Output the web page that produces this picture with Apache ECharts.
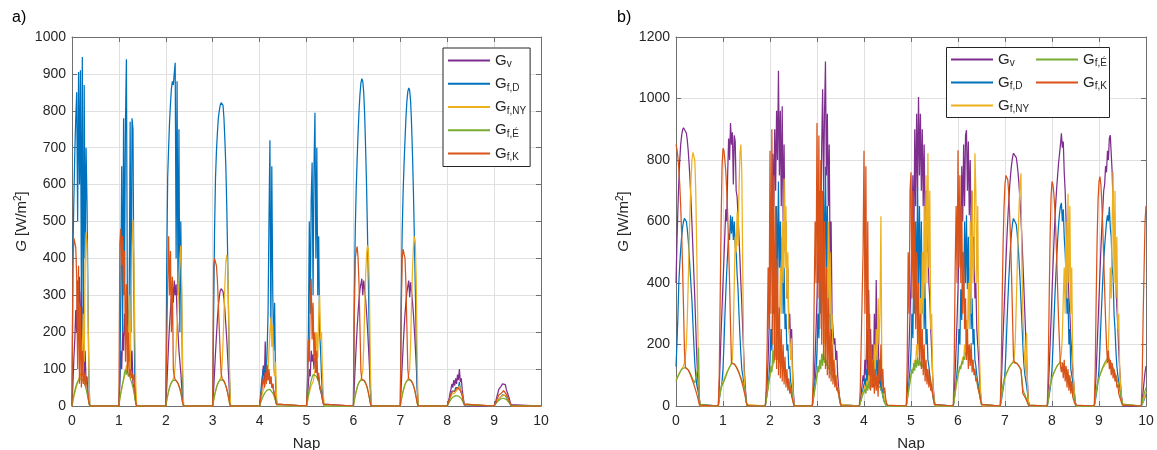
<!DOCTYPE html>
<html><head><meta charset="utf-8">
<script src="https://cdn.jsdelivr.net/npm/echarts@6/dist/echarts.min.js"></script>
<style>html,body{margin:0;padding:0;background:#fff}#c{width:1157px;height:450px}</style>
</head><body><div id="c"></div>
<script>
// ---------- labels, ticks ----------
const seriesNames = ['Gv', 'Gf,D', 'Gf,NY', 'Gf,É', 'Gf,K'];
const seriesColors = ['#7E2F8E', '#0072BD', '#EDB120', '#77AC30', '#D95319'];
const xTicks = [0, 1, 2, 3, 4, 5, 6, 7, 8, 9, 10];
const yTicksA = [0, 100, 200, 300, 400, 500, 600, 700, 800, 900, 1000];
const yTicksB = [0, 200, 400, 600, 800, 1000, 1200];
const xName = 'Nap';

// sample times within each day (fraction of a day)
const offsetsA = [0, 0.02, 0.04, 0.06, 0.08, 0.10, 0.12, 0.14, 0.16, 0.18, 0.20, 0.22, 0.24, 0.26, 0.28, 0.30, 0.32, 0.34, 0.36, 0.38, 0.40];
const offsetsB = [-0.10, -0.08, -0.06, -0.04, -0.02, 0, 0.02, 0.04, 0.06, 0.08, 0.10, 0.12, 0.14, 0.16, 0.18, 0.20, 0.22, 0.24, 0.26, 0.28, 0.30, 0.32, 0.34, 0.36, 0.38, 0.40, 0.42, 0.44, 0.46, 0.48, 0.50, 0.52, 0.54];

// ---------- panel a) values, one row per day ----------
const GvA = [
  [0,60,130,180,260,200,340,280,350,150,310,100,270,80,150,60,80,30,10,0,0],
  [0,60,150,100,200,150,250,190,300,220,260,120,200,90,150,60,50,25,8,0,0],
  [0,50,110,170,220,260,300,330,280,340,300,330,250,200,150,120,90,50,15,0,0],
  [0,45,95,145,190,235,270,295,312,318,322,310,290,260,220,180,130,80,25,0,0],
  [0,15,40,80,110,60,175,90,110,70,90,60,80,50,60,40,30,15,5,0,0],
  [0,20,60,100,80,150,120,140,100,130,90,110,70,80,50,45,30,15,5,0,0],
  [0,57,112,164,212,254,289,316,330,345,300,340,316,289,254,212,164,112,57,0,0],
  [0,55,110,160,207,248,282,308,325,340,295,335,310,283,248,207,160,110,55,0,0],
  [0,10,20,35,45,60,50,70,55,75,60,85,70,100,65,75,45,25,8,0,0],
  [0,8,15,25,35,45,40,52,48,60,65,55,58,45,40,30,22,12,4,0,0],
  [0]
];
const GfDA = [
  [0,420,560,690,780,850,500,905,600,910,300,946,120,870,400,700,550,300,80,0,0],
  [0,80,300,650,200,780,350,770,940,300,120,300,770,200,780,750,300,60,10,0,0],
  [0,380,620,700,770,820,860,880,870,900,930,400,880,300,750,200,500,250,50,0,0],
  [0,250,480,620,690,740,780,800,815,822,825,815,780,720,650,540,400,230,70,0,0],
  [0,30,60,80,100,90,110,80,150,250,500,720,200,650,310,150,280,60,15,0,0],
  [0,60,200,500,250,560,660,300,650,795,400,700,300,460,200,150,80,30,10,0,0],
  [0,300,480,590,670,740,800,845,875,887,880,850,790,700,600,470,330,180,50,0,0],
  [0,290,470,580,655,720,780,825,852,862,855,825,765,680,580,455,320,175,48,0,0],
  [0,6,14,22,30,40,35,45,40,50,45,55,50,65,45,50,30,15,5,0,0],
  [0,4,8,12,16,20,20,24,26,30,32,28,28,24,20,15,10,5,2,0,0],
  [0]
];
const GfNYA = [
  [0,12,25,35,45,55,60,70,65,90,75,150,250,120,380,470,440,260,100,0,0],
  [0,20,35,45,60,70,80,90,110,90,120,300,100,250,430,505,400,200,60,0,0],
  [0,15,28,40,50,58,62,68,70,80,110,160,220,280,330,400,435,320,100,0,0],
  [0,15,28,40,50,58,63,68,71,80,110,170,250,330,390,410,380,250,80,0,0],
  [0,10,25,35,45,50,55,60,70,90,150,200,240,160,220,100,80,120,30,0,0],
  [0,10,25,35,45,55,60,65,80,100,150,200,130,250,300,180,200,90,30,0,0],
  [0,15,28,40,50,58,64,69,71,75,95,160,260,350,410,435,425,330,120,0,0],
  [0,15,28,40,50,58,64,69,72,76,100,170,280,370,430,460,445,340,120,0,0],
  [0,6,12,20,25,32,30,35,35,40,38,45,45,55,45,45,30,15,5,0,0],
  [0,4,8,12,16,20,20,24,25,28,30,30,30,28,24,18,12,6,2,0,0],
  [0]
];
const GfEA = [
  [0,18,30,42,52,60,66,70,74,76,74,72,68,62,55,46,35,22,8,0,0],
  [0,20,35,50,60,75,90,100,85,98,80,88,75,70,60,50,38,22,8,0,0],
  [0,15,28,40,50,58,64,68,70,71,70,69,66,61,54,45,34,21,7,0,0],
  [0,15,28,40,50,58,64,69,71,72,72,70,67,62,55,46,35,22,8,0,0],
  [0,8,15,22,28,33,37,40,43,45,46,45,43,40,35,29,22,14,5,0,0],
  [0,15,30,45,58,68,78,85,88,86,82,78,72,65,56,46,35,22,8,0,0],
  [0,15,28,40,50,58,64,69,71,72,72,70,67,62,55,46,35,22,8,0,0],
  [0,15,28,40,50,58,64,69,71,72,72,70,67,62,55,46,35,22,8,0,0],
  [0,5,10,15,18,22,24,26,27,28,28,28,27,26,24,20,15,10,3,0,0],
  [0,3,7,10,13,16,18,19,20,21,21,20,19,18,16,13,9,5,2,0,0],
  [0]
];
const GfKA = [
  [0,380,455,460,430,350,100,380,60,270,50,150,60,90,55,80,50,35,10,0,0],
  [0,440,480,380,460,300,420,120,330,90,200,80,100,75,90,70,85,40,10,0,0],
  [0,170,330,460,300,420,200,350,100,80,72,70,67,62,55,50,40,25,8,0,0],
  [0,380,400,395,380,340,280,210,140,90,74,71,68,62,54,45,34,21,7,0,0],
  [0,20,40,60,75,50,90,60,110,70,100,60,80,50,60,40,30,15,5,0,0],
  [0,50,180,120,300,345,180,280,120,200,90,150,70,90,55,60,40,20,5,0,0],
  [0,250,400,420,432,400,330,210,95,72,73,71,68,63,56,47,36,23,8,0,0],
  [0,250,400,425,430,400,330,215,100,73,73,71,68,63,56,47,36,23,8,0,0],
  [0,8,15,25,30,38,35,42,40,45,42,50,45,55,42,40,28,15,5,0,0],
  [0,5,10,18,24,30,28,34,35,40,42,38,38,32,28,22,15,8,3,0,0],
  [0]
];

// ---------- panel b) values, one row per day ----------
const GvB = [
  [null,null,null,null,null,400,530,640,730,800,850,880,898,905,905,900,888,865,830,785,730,665,590,510,430,350,260,170,100,50,15,0,0],
  [0,60,150,240,320,400,480,560,640,600,760,870,800,920,850,890,720,880,860,700,680,620,550,480,400,330,250,170,100,50,10,0,0],
  [0,30,80,150,250,400,600,500,820,650,900,700,960,800,1090,750,960,650,975,600,850,500,600,350,450,250,300,200,250,120,40,0,0],
  [0,30,90,160,250,350,500,400,700,550,850,1030,700,950,1120,750,950,650,850,450,600,300,250,200,220,150,180,100,60,30,10,0,0],
  [0,15,40,70,100,80,150,100,250,120,377,150,250,100,200,80,300,120,410,150,250,100,150,80,60,40,30,20,10,5,0,0,0],
  [0,40,120,200,300,400,550,750,500,900,650,950,700,1005,750,950,700,900,650,850,600,700,500,550,400,350,250,180,100,50,15,0,0],
  [0,40,110,190,280,380,500,650,500,780,600,850,650,880,897,700,860,620,800,550,700,450,550,350,400,250,200,150,90,40,10,0,0],
  [0,70,150,230,310,390,470,545,610,665,715,755,785,808,822,828,822,808,785,755,715,665,610,545,470,390,310,230,150,70,15,0,0],
  [0,50,120,200,280,370,450,530,600,660,710,750,790,820,850,887,840,860,760,700,600,500,450,350,300,220,180,120,80,40,10,0,0],
  [0,45,110,190,270,350,430,510,580,640,700,720,780,760,830,800,870,881,820,760,650,600,480,420,320,260,180,120,70,30,8,0,0],
  [0,20,50,80,110,130]
];
const GfDB = [
  [null,null,null,null,null,128,200,290,400,460,510,550,580,600,610,612,600,575,540,495,440,390,340,270,200,140,100,70,55,40,20,5,0],
  [0,20,40,60,80,120,200,290,370,440,500,560,540,620,560,615,540,600,520,500,430,380,300,230,170,120,100,80,60,35,10,0,0],
  [0,20,40,70,100,150,250,180,400,300,500,350,650,400,730,450,600,380,550,300,450,250,300,180,200,120,130,80,60,35,10,0,0],
  [0,20,50,80,120,180,300,220,450,300,600,350,700,400,778,450,650,350,500,250,300,180,150,120,110,90,80,60,40,20,5,0,0],
  [0,10,25,40,55,70,90,60,120,80,180,90,150,70,120,60,150,80,200,90,150,70,100,50,60,30,20,10,5,0,0,0,0],
  [0,20,50,80,120,180,300,220,450,300,600,350,713,400,650,350,600,300,500,250,400,200,250,150,130,100,80,60,40,20,5,0,0],
  [0,20,45,75,110,160,250,200,380,280,500,350,600,400,620,380,550,300,450,250,350,200,250,150,130,100,80,60,40,20,5,0,0],
  [0,15,35,55,75,110,180,260,340,410,470,525,565,595,610,616,610,590,560,520,470,410,340,270,200,140,105,85,65,40,12,0,0],
  [0,15,35,55,80,120,190,270,350,420,480,540,590,625,650,660,600,640,550,500,420,300,350,200,250,120,100,80,50,25,8,0,0],
  [0,15,35,55,80,120,190,270,340,410,470,520,560,600,620,600,648,580,550,450,420,300,250,180,130,100,80,60,40,20,5,0,0],
  [0,5,12,20,30,40]
];
const GfNYB = [
  [null,null,null,null,null,85,92,98,104,110,115,120,124,128,140,160,200,280,400,530,650,740,800,825,830,800,700,520,300,100,20,0,0],
  [0,25,45,60,70,78,86,94,102,110,116,122,128,132,138,150,250,400,550,500,630,520,700,820,850,760,450,150,60,30,5,0,0],
  [0,20,40,60,80,100,110,120,130,140,150,160,200,170,300,250,450,300,600,400,740,450,650,350,500,250,220,150,220,80,20,0,0],
  [0,20,40,60,80,100,110,120,130,140,150,170,160,250,200,350,250,600,300,500,250,300,180,150,130,100,80,60,40,20,5,0,0],
  [0,10,20,35,45,55,65,50,80,60,100,70,120,80,150,90,200,100,250,150,350,200,300,617,100,80,40,20,8,0,0,0,0],
  [0,20,40,60,80,100,110,120,130,150,140,200,160,250,180,350,200,500,300,650,350,750,400,822,450,700,250,300,100,40,10,0,0],
  [0,20,40,60,80,100,110,120,130,140,160,150,200,170,280,200,400,250,600,300,700,400,450,822,700,400,650,250,150,50,10,0,0],
  [0,25,50,68,80,90,100,108,115,122,128,133,137,140,143,160,220,330,450,560,650,720,757,450,300,200,150,100,237,60,10,0,0],
  [0,25,50,68,80,90,100,108,115,122,128,133,137,140,145,170,230,350,450,300,600,350,690,400,650,300,450,150,80,30,8,0,0],
  [0,25,50,68,80,90,100,108,115,122,128,133,137,140,150,200,300,450,350,600,762,400,700,350,550,250,300,120,60,25,6,0,0],
  [0,8,15,25,35,45]
];
const GfEB = [
  [null,null,null,null,null,80,88,95,102,108,114,118,122,124,125,125,124,122,118,113,107,100,93,86,80,75,72,70,120,190,5,0,0],
  [0,25,45,58,66,72,80,88,96,105,112,120,126,132,136,140,139,137,133,128,122,115,108,100,92,84,76,68,60,40,10,0,0],
  [0,20,40,60,80,100,130,110,180,140,240,160,200,150,180,140,160,130,150,120,130,110,110,95,90,80,70,60,50,30,8,0,0],
  [0,20,40,60,80,100,130,110,150,120,170,130,180,140,160,130,150,120,130,110,110,100,95,85,80,70,60,50,40,25,8,0,0],
  [0,10,20,30,38,45,55,40,70,50,80,55,90,60,95,70,100,75,95,70,85,65,70,55,50,35,20,10,5,0,0,0,0],
  [0,20,40,60,80,100,120,105,140,115,150,125,160,130,150,130,145,125,140,120,130,110,120,100,90,80,70,55,40,25,8,0,0],
  [0,25,50,70,85,100,115,130,120,145,135,160,150,175,165,190,180,200,170,160,140,130,120,110,95,80,65,50,35,20,5,0,0],
  [0,30,55,72,85,95,103,110,117,123,129,134,138,141,143,144,143,141,138,134,129,124,118,112,55,45,38,30,22,12,3,0,0],
  [0,25,50,68,80,92,100,108,115,122,128,133,137,140,142,143,140,138,132,128,120,112,105,98,90,80,70,58,45,28,8,0,0],
  [0,25,50,68,80,92,100,110,118,126,133,140,138,150,145,160,150,155,140,135,125,118,108,100,90,78,65,50,38,22,6,0,0],
  [0,15,30,40,50,60]
];
const GfKB = [
  [null,null,null,null,null,850,835,810,770,720,650,560,450,320,180,125,124,121,117,111,104,96,88,79,70,60,50,40,28,15,3,0,0],
  [0,100,350,600,780,838,830,800,760,700,620,520,400,260,140,135,138,136,133,128,122,115,107,98,88,78,66,53,40,25,10,0,0],
  [0,60,200,450,250,830,300,900,200,750,150,650,120,480,100,320,90,250,80,200,70,160,60,120,50,90,40,60,30,20,8,0,0],
  [0,100,350,600,400,920,350,880,250,800,200,700,150,600,120,450,100,350,90,250,80,200,70,150,60,100,50,60,40,25,8,0,0],
  [0,50,200,350,500,830,300,780,150,600,100,300,50,200,60,150,40,120,50,100,30,150,80,200,60,120,40,60,25,10,3,0,0],
  [0,150,500,300,700,760,350,700,300,600,250,500,200,400,150,300,120,250,100,200,80,150,70,120,60,100,50,70,40,20,5,0,0],
  [0,150,450,650,400,832,450,750,400,650,300,500,250,350,150,250,120,200,130,205,110,150,100,120,80,90,60,50,35,20,5,0,0],
  [0,120,350,530,650,720,750,755,735,690,620,530,420,290,160,140,141,140,138,134,129,124,118,112,40,35,30,25,18,10,3,0,0],
  [0,120,350,550,680,730,720,690,640,570,480,380,280,200,130,110,140,90,150,80,130,60,120,50,100,40,80,30,20,10,3,0,0],
  [0,120,350,540,670,730,746,720,660,580,480,380,280,200,140,180,120,150,100,140,90,120,80,100,60,70,40,30,20,10,3,0,0],
  [0,100,300,450,600,650]
];

const panelA = [GvA, GfDA, GfNYA, GfEA, GfKA];
const panelB = [GvB, GfDB, GfNYB, GfEB, GfKB];

// ---------- build ----------
function toPoints(days, offsets) {
  const pts = [];
  days.forEach((vals, d) => {
    vals.forEach((v, i) => {
      pts.push([Math.round((d + offsets[i]) * 1000) / 1000, v === null ? '-' : v]);
    });
  });
  return pts;
}

const FONT = "'Liberation Sans', Arial, sans-serif";
const TXT = '#262626';
const AX = '#6f6f6f';
const GRIDC = '#e0e0e0';

const yNameRich = {
  i: { fontStyle: 'italic', fontSize: 15, lineHeight: 18, color: TXT, fontFamily: FONT },
  n: { fontSize: 15, lineHeight: 18, color: TXT, fontFamily: FONT },
  p: { fontSize: 10, lineHeight: 10, verticalAlign: 'top', color: TXT, fontFamily: FONT }
};
const legendRich = {
  g: { fontSize: 15, lineHeight: 18, color: TXT, fontFamily: FONT },
  s: { fontSize: 10, lineHeight: 10, verticalAlign: 'bottom', color: TXT, fontFamily: FONT }
};
const legendFormatter = n => '{g|G}{s|' + n.slice(1) + '}';
const plainNum = v => String(v);

function xAxes(gi) {
  const base = { type: 'value', gridIndex: gi, min: xTicks[0], max: xTicks[xTicks.length - 1], interval: xTicks[1] - xTicks[0] };
  return [
    Object.assign({}, base, {
      position: 'bottom',
      axisLine: { show: true, onZero: false, lineStyle: { color: AX, width: 1 } },
      axisTick: { show: true, inside: true, length: 5, lineStyle: { color: AX } },
      axisLabel: { show: true, color: TXT, fontSize: 14, margin: 8, fontFamily: FONT, formatter: plainNum },
      splitLine: { show: true, lineStyle: { color: GRIDC, width: 1 } },
      name: xName, nameLocation: 'middle', nameGap: 30,
      nameTextStyle: { color: TXT, fontSize: 15, fontFamily: FONT }
    }),
    Object.assign({}, base, {
      position: 'top',
      axisLine: { show: true, onZero: false, lineStyle: { color: AX, width: 1 } },
      axisTick: { show: true, inside: true, length: 5, lineStyle: { color: AX } },
      axisLabel: { show: false },
      splitLine: { show: false }
    })
  ];
}
function yAxes(gi, ticks, gap) {
  const base = { type: 'value', gridIndex: gi, min: ticks[0], max: ticks[ticks.length - 1], interval: ticks[1] - ticks[0] };
  return [
    Object.assign({}, base, {
      position: 'left',
      axisLine: { show: true, onZero: false, lineStyle: { color: AX, width: 1 } },
      axisTick: { show: true, inside: true, length: 5, lineStyle: { color: AX } },
      axisLabel: { show: true, color: TXT, fontSize: 14, margin: 6, fontFamily: FONT, formatter: plainNum },
      splitLine: { show: true, lineStyle: { color: GRIDC, width: 1 } },
      name: '{i|G}{n| [W/m}{p|2}{n|]}', nameLocation: 'middle', nameGap: gap,
      nameTextStyle: { rich: yNameRich }
    }),
    Object.assign({}, base, {
      position: 'right',
      axisLine: { show: true, onZero: false, lineStyle: { color: AX, width: 1 } },
      axisTick: { show: true, inside: true, length: 5, lineStyle: { color: AX } },
      axisLabel: { show: false },
      splitLine: { show: false }
    })
  ];
}

const series = [];
function addSeries(panel, offsets, axisIndex) {
  seriesNames.forEach((name, k) => {
    series.push({
      name, type: 'line', xAxisIndex: axisIndex, yAxisIndex: axisIndex,
      data: toPoints(panel[k], offsets),
      showSymbol: false, symbol: 'none', connectNulls: false, clip: true,
      lineStyle: { width: 1.25, color: seriesColors[k] }, itemStyle: { color: seriesColors[k] },
      emphasis: { disabled: true }, animation: false
    });
  });
}
addSeries(panelA, offsetsA, 0);
addSeries(panelB, offsetsB, 2);

const legendCommon = {
  orient: 'vertical', icon: 'rect', itemWidth: 42, itemHeight: 2,
  formatter: legendFormatter, textStyle: { rich: legendRich, color: TXT },
  selectedMode: false, z: 10
};

const option = {
  animation: false,
  textStyle: { fontFamily: FONT },
  grid: [
    { left: 72, top: 37, width: 469, height: 369, outerBoundsMode: 'none', containLabel: false },
    { left: 676, top: 37, width: 470, height: 369, outerBoundsMode: 'none', containLabel: false }
  ],
  xAxis: [...xAxes(0), ...xAxes(1)],
  yAxis: [...yAxes(0, yTicksA, 41), ...yAxes(1, yTicksB, 43)],
  legend: [
    Object.assign({}, legendCommon, {
      data: seriesNames, left: 443, top: 48, itemGap: 6.75,
      padding: [5, 4, 4, 5], borderColor: TXT, borderWidth: 1, backgroundColor: '#fff'
    }),
    Object.assign({}, legendCommon, {
      data: seriesNames.slice(0, 3), left: 946, top: 47, itemGap: 6.5, padding: [5, 5, 3, 5]
    }),
    Object.assign({}, legendCommon, {
      data: seriesNames.slice(3), left: 1031, top: 47, itemGap: 6.5, padding: [5, 5, 3, 5]
    })
  ],
  graphic: [
    { type: 'rect', left: 946, top: 47, z: 8, shape: { width: 163, height: 70 },
      style: { fill: '#fff', stroke: TXT, lineWidth: 1 } },
    { type: 'text', left: 12, top: 10, z: 10, style: { text: 'a)', fontSize: 16, fill: '#000', fontFamily: FONT } },
    { type: 'text', left: 617, top: 10, z: 10, style: { text: 'b)', fontSize: 16, fill: '#000', fontFamily: FONT } }
  ],
  series
};

const chart = echarts.init(document.getElementById('c'), null, { renderer: 'canvas' });
chart.setOption(option);
</script>
</body></html>
